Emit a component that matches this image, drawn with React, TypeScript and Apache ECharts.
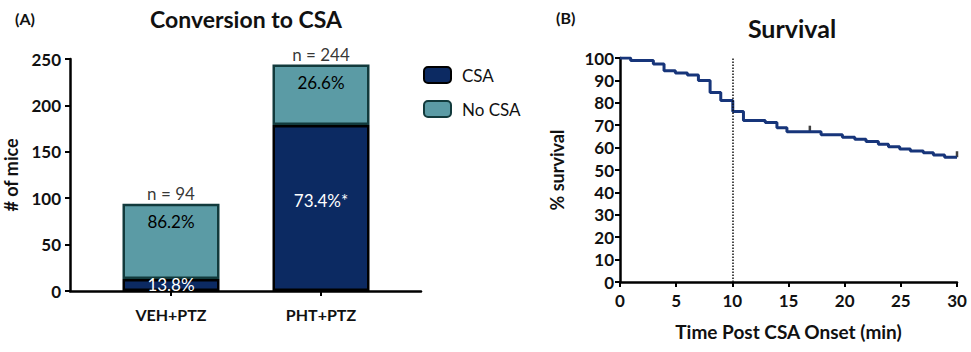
import React, { useEffect, useRef } from "react";
import * as echarts from "echarts";

// ---- Panel A data ----
const groups = ["VEH+PTZ", "PHT+PTZ"];
const csaCounts = [13, 179];
const noCsaCounts = [81, 65];
const csaLabels = ["13.8%", "73.4%*"];
const noCsaLabels = ["86.2%", "26.6%"];
const totals = [94, 244];
const totalLabels = ["n = 94", "n = 244"];
const miceTicks = { min: 0, max: 250, interval: 50 };

// ---- Panel B data (Kaplan-Meier) ----
const kmTimes = [0, 0.95, 2.97, 3.92, 4.93, 6.0, 6.98, 8.02, 8.97, 10.04, 10.99, 12.93, 13.97, 14.86, 17.9, 19.8, 20.9, 21.9, 23.0, 23.9, 24.9, 25.85, 27.0, 27.9, 28.9, 30];
const kmSurvival = [100, 98.9, 97.3, 94.3, 93.3, 92.4, 90.0, 84.6, 81.0, 76.1, 72.1, 71.2, 68.9, 67.1, 65.7, 64.6, 63.7, 62.7, 61.5, 60.4, 59.4, 58.5, 57.7, 56.7, 55.7, 55.7];
const censorTimes = [16.9, 30];
const censorSurvival = [67.1, 55.7];
const markTime = 10;

const FONT = "Lato, 'Open Sans', sans-serif";
const NAVY = "#0c2a62";
const TEAL = "#5b9ba5";
const TEAL_BORDER = "#123a3c";
const CURVE = "#17357a";

export default function App() {
  const ref = useRef<HTMLDivElement>(null);
  useEffect(() => {
    document.body.style.margin = "0";
    const chart = echarts.init(ref.current!, undefined, { renderer: "svg" });
    const axisText = { color: "#111", fontFamily: FONT, fontWeight: "bold" as const };
    const titleText = (size: number) => ({ fontSize: size, fontWeight: "bold" as const, color: "#111", fontFamily: FONT });
    chart.setOption({
      animation: false,
      backgroundColor: "#fff",
      textStyle: { fontFamily: FONT },
      title: [
        { text: "(A)", left: 10, top: 5, textStyle: titleText(16) },
        { text: "Conversion to CSA", left: 241, textAlign: "center", top: 2, textStyle: titleText(23) },
        { text: "(B)", left: 551, top: 4, textStyle: titleText(16) },
        { text: "Survival", left: 787, textAlign: "center", top: 10, textStyle: titleText(25) },
      ],
      legend: {
        data: ["CSA", "No CSA"],
        orient: "vertical",
        left: 418,
        top: 61,
        itemWidth: 27,
        itemHeight: 16,
        itemGap: 16,
        textStyle: { fontSize: 17, color: "#111", fontFamily: FONT, padding: [0, 0, 0, 6] },
      },
      grid: [
        { left: 70, top: 59, width: 351, bottom: 61 },
        { left: 96, top: 59, width: 300, bottom: 61 },
        { left: 620, top: 58, width: 337, bottom: 70 },
      ],
      xAxis: [
        {
          gridIndex: 0, type: "value", min: 0, max: 1,
          axisLine: { show: true, lineStyle: { color: "#000", width: 2.5 } },
          axisTick: { show: false }, axisLabel: { show: false }, splitLine: { show: false },
        },
        {
          gridIndex: 1, type: "category", data: groups,
          axisLine: { show: false },
          axisTick: { show: true, alignWithLabel: true, length: 5, lineStyle: { color: "#000", width: 2 } },
          axisLabel: { ...axisText, fontSize: 16, margin: 15 },
        },
        {
          gridIndex: 2, type: "value", min: 0, max: 30, interval: 5,
          axisLine: { show: true, lineStyle: { color: "#000", width: 2.5 } },
          axisTick: { show: true, length: 5, lineStyle: { color: "#000", width: 2 } },
          axisLabel: { ...axisText, fontSize: 17, margin: 10 },
          splitLine: { show: false },
          name: "Time Post CSA Onset (min)", nameLocation: "middle", nameGap: 40,
          nameTextStyle: { ...axisText, fontSize: 19 },
        },
      ],
      yAxis: [
        {
          gridIndex: 0, type: "value", ...miceTicks,
          axisLine: { show: true, lineStyle: { color: "#000", width: 2.5 } },
          axisTick: { show: true, length: 5, lineStyle: { color: "#000", width: 2 } },
          axisLabel: { ...axisText, fontSize: 17, margin: 9 },
          splitLine: { show: false },
          name: "# of mice", nameLocation: "middle", nameGap: 50,
          nameTextStyle: { ...axisText, fontSize: 18 },
        },
        {
          gridIndex: 1, type: "value", ...miceTicks, show: false, splitLine: { show: false },
        },
        {
          gridIndex: 2, type: "value", min: 0, max: 100, interval: 10,
          axisLine: { show: true, lineStyle: { color: "#000", width: 2.5 } },
          axisTick: { show: true, length: 5, lineStyle: { color: "#000", width: 2 } },
          axisLabel: { ...axisText, fontSize: 17, margin: 6 },
          splitLine: { show: false },
          name: "% survival", nameLocation: "middle", nameGap: 54,
          nameTextStyle: { ...axisText, fontSize: 18 },
        },
      ],
      series: [
        {
          name: "CSA", type: "bar", xAxisIndex: 1, yAxisIndex: 1, stack: "a", barWidth: 97,
          itemStyle: { color: NAVY, borderColor: "#000", borderWidth: 2.5 },
          data: csaCounts.map((v, i) => ({
            value: v,
            label: { show: true, position: "inside", formatter: csaLabels[i], color: "#fff", fontSize: 17, fontFamily: FONT, offset: i === 1 ? [0, -7] : [0, 0] },
          })),
        },
        {
          name: "No CSA", type: "bar", xAxisIndex: 1, yAxisIndex: 1, stack: "a", barWidth: 97,
          itemStyle: { color: TEAL, borderColor: TEAL_BORDER, borderWidth: 2.5 },
          data: noCsaCounts.map((v, i) => ({
            value: v,
            label: { show: true, position: "insideTop", distance: 9, formatter: noCsaLabels[i], color: "#000", fontSize: 17, fontFamily: FONT },
          })),
        },
        {
          type: "scatter", xAxisIndex: 1, yAxisIndex: 1, symbolSize: 0, silent: true,
          data: totals.map((v, i) => ({
            value: v,
            label: { show: true, position: "top", distance: 2, formatter: totalLabels[i], color: "#000", fontSize: 17, fontFamily: FONT },
          })),
        },
        {
          type: "line", xAxisIndex: 2, yAxisIndex: 2, step: "end", showSymbol: false, symbol: "none",
          lineStyle: { color: CURVE, width: 3 },
          data: kmTimes.map((t, i) => [t, kmSurvival[i]]),
          markLine: {
            silent: true, symbol: "none", label: { show: false },
            lineStyle: { type: "dotted", color: "#111", width: 1.5 },
            data: [{ xAxis: markTime }],
          },
        },
        {
          type: "scatter", xAxisIndex: 2, yAxisIndex: 2, symbol: "rect", symbolSize: [2.5, 6], symbolOffset: [0, -3],
          itemStyle: { color: "#111" }, silent: true,
          data: censorTimes.map((t, i) => [t, censorSurvival[i]]),
        },
      ],
    });
    return () => chart.dispose();
  }, []);
  return <div ref={ref} style={{ width: 971, height: 352 }} />;
}
